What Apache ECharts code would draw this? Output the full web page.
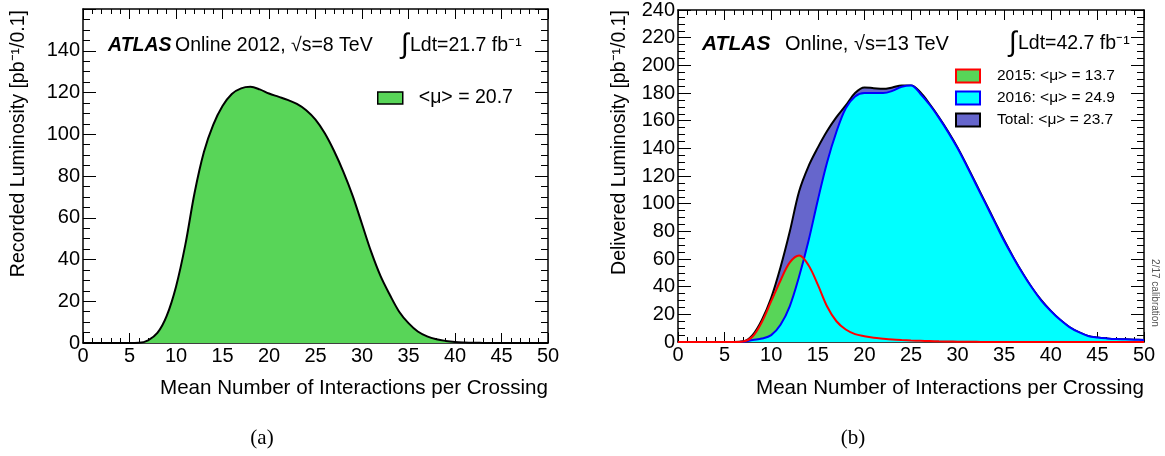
<!DOCTYPE html>
<html lang="en">
  <head>
    <meta charset="UTF-8" />
    <title>ATLAS pile-up</title>
    <style>
      html, body { margin: 0; padding: 0; background: #fff; }
      #main { width: 1165px; height: 456px; }
    </style>
  </head>
  <body>
    <script src="https://cdn.jsdelivr.net/npm/echarts@6/dist/echarts.min.js"></script>
    <div id="main"></div>
    <script>
      // mean number of interactions per crossing (x grid)
      const mu = [0, 1, 2, 3, 4, 5, 6, 7, 8, 9, 10, 11, 12, 13, 14, 15, 16, 17, 18, 19, 20,
        21, 22, 23, 24, 25, 26, 27, 28, 29, 30, 31, 32, 33, 34, 35, 36, 37, 38, 39, 40,
        41, 42, 43, 44, 45, 46, 47, 48, 49, 50]

      // (a) recorded luminosity 2012 [pb-1/0.1]
      const lumi2012 = [0, 0, 0, 0, 0, 0, 0.1, 1.3, 4.8, 13, 27, 47, 72, 91.5, 104.5, 113.5, 119.3,
        122, 122.7, 121.5, 119.5, 118, 116.5, 114.5, 111.5, 107, 100.5, 92, 82, 70.5, 57, 43.5,
        32, 23, 15, 9.5, 5.5, 3.2, 1.8, 1, 0.5, 0.25, 0.1, 0.05, 0, 0, 0, 0, 0, 0, 0]

      // (b) delivered luminosity [pb-1/0.1]
      const lumiTotal = [0, 0, 0, 0, 0, 0, 0, 0.5, 5, 16, 32, 54, 80, 109, 127, 140.5, 152.5,
        162.5, 171, 180, 184, 183.5, 183, 184, 185.5, 185.5, 180.5, 172, 162.5, 152, 140.5,
        127.5, 114, 100.5, 87, 73.5, 61, 49.5, 39, 30, 22.5, 16, 10.8, 7.1, 4.4, 3.3, 2.6, 2.1,
        1.9, 1.7, 1.5]
      const lumi2016 = [0, 0, 0, 0, 0, 0, 0, 0.2, 1.5, 2.5, 5, 12.5, 26, 47.5, 73, 102.5, 130,
        152, 169, 177.5, 180, 180, 180, 181.5, 184.5, 185.5, 179.5, 171.5, 162, 151.5, 140, 127,
        113.5, 100, 86.5, 73, 60.8, 49.4, 39, 29.8, 22.4, 16, 10.8, 7.1, 4.4, 3.3, 2.6, 2.1, 1.9,
        1.7, 1.5]
      const lumi2015 = [0, 0, 0, 0, 0, 0, 0, 0.4, 4, 14.5, 29.5, 44.5, 57.5, 62.5, 55.5, 41.5,
        25.7, 15, 9, 5.7, 4.2, 3.1, 2.4, 1.8, 1.4, 1.1, 0.9, 0.7, 0.5, 0.35, 0.25, 0.15, 0.1,
        0.05, 0, 0, 0, 0, 0, 0, 0, 0, 0, 0, 0, 0, 0, 0, 0, 0, 0]

      const names = {
        a: '<μ> = 20.7',
        y2015: '2015: <μ> = 13.7',
        y2016: '2016: <μ> = 24.9',
        total: 'Total: <μ> = 23.7'
      }
      const yMaxA = 160
      const yMaxB = 240

      const FONT = 'Liberation Sans'
      const green = '#58d558'
      const pts = arr => mu.map((x, i) => [x, arr[i]])

      function xAxes(grid) {
        const base = {
          gridIndex: grid, type: 'value', min: 0, max: 50, interval: 5,
          axisLine: { onZero: false, lineStyle: { color: '#000', width: 1.5 } },
          axisTick: { inside: true, length: 10, lineStyle: { color: '#000', width: 1 } },
          minorTick: { show: true, splitNumber: 5, length: 5, lineStyle: { color: '#000', width: 1 } },
          splitLine: { show: false }
        }
        return [
          { ...base, position: 'bottom',
            axisLabel: { fontSize: 20, fontFamily: FONT, color: '#000', margin: 3 } },
          { ...base, position: 'top', axisLabel: { show: false } }
        ]
      }
      function yAxes(grid, max) {
        const base = {
          gridIndex: grid, type: 'value', min: 0, max: max, interval: 20,
          axisLine: { show: true, onZero: false, lineStyle: { color: '#000', width: 1.5 } },
          axisTick: { show: true, inside: true, length: 13, lineStyle: { color: '#000', width: 1 } },
          minorTick: { show: true, splitNumber: 4, length: 7, lineStyle: { color: '#000', width: 1 } },
          splitLine: { show: false }
        }
        return [
          { ...base, position: 'left',
            axisLabel: { fontSize: 20, fontFamily: FONT, color: '#000', margin: 3,
              formatter: v => (max === 160 && v === 160 ? '' : v) } },
          { ...base, position: 'right', axisLabel: { show: false } }
        ]
      }

      const line = (name, x, y, data, lineColor, fill, z) => ({
        name, type: 'line', xAxisIndex: x, yAxisIndex: y, data,
        smooth: 0.35, symbol: 'none', z,
        itemStyle: { color: fill || lineColor },
        lineStyle: lineColor ? { color: lineColor, width: 2 } : { width: 0, opacity: 0 },
        areaStyle: fill ? { color: fill, opacity: 1 } : undefined
      })

      function txt(x, y, text, size, extra) {
        return {
          type: 'text', x, y, silent: true,
          style: Object.assign({
            text, fontSize: size, fontFamily: FONT, fill: '#000',
            align: 'left', verticalAlign: 'middle', textAlign: 'left', textVerticalAlign: 'middle'
          }, extra || {})
        }
      }
      const bold = { fontWeight: 'bold', fontStyle: 'italic' }

      const chart = echarts.init(document.getElementById('main'))
      chart.setOption({
        animation: false,
        backgroundColor: '#fff',
        grid: [
          { left: 83, top: 9, width: 465, height: 334 },
          { left: 678, top: 9, width: 466, height: 333 }
        ],
        xAxis: [...xAxes(0), ...xAxes(1)],
        yAxis: [...yAxes(0, yMaxA), ...yAxes(1, yMaxB)],
        legend: [
          {
            left: 377, top: 88, orient: 'vertical', padding: 0, selectedMode: false,
            icon: 'rect', itemWidth: 25, itemHeight: 12, itemGap: 8,
            textStyle: { fontSize: 19.5, fontFamily: FONT, color: '#000', padding: [0, 0, 0, 11] },
            data: [{ name: names.a, itemStyle: { color: green, borderColor: '#000', borderWidth: 1.5 } }]
          },
          {
            left: 955, top: 68, orient: 'vertical', padding: 0, selectedMode: false,
            icon: 'rect', itemWidth: 24, itemHeight: 13, itemGap: 6,
            textStyle: { fontSize: 15.5, fontFamily: FONT, color: '#000', padding: [0, 0, 0, 12] },
            data: [
              { name: names.y2015, itemStyle: { color: green, borderColor: '#ff0000', borderWidth: 2 } },
              { name: names.y2016, itemStyle: { color: '#00ffff', borderColor: '#0000ff', borderWidth: 2 } },
              { name: names.total, itemStyle: { color: '#6666cc', borderColor: '#000', borderWidth: 2 } }
            ]
          }
        ],
        series: [
          line(names.a, 0, 0, pts(lumi2012), '#000', green, 2),
          line(names.total, 2, 2, pts(lumiTotal), '#000', '#6666cc', 2),
          line(names.y2015, 2, 2, pts(lumi2015), null, green, 3),
          line(names.y2016, 2, 2, pts(lumi2016), '#0000ff', '#00ffff', 4),
          line('2015 outline', 2, 2, pts(lumi2015), '#ff0000', null, 5)
        ],
        graphic: [
          // panel (a)
          txt(108, 46, 'ATLAS', 19.5, bold),
          txt(175, 46, 'Online 2012, √s=8 TeV', 19.5),
          txt(401, 45, '∫', 28),
          txt(410, 46, 'Ldt=21.7 fb⁻¹', 19.5),
          txt(19, 10, 'Recorded Luminosity [pb⁻¹/0.1]', 19.5,
            { align: 'right', textAlign: 'right' }),
          txt(548, 388, 'Mean Number of Interactions per Crossing', 20.6,
            { align: 'right', textAlign: 'right' }),
          txt(262, 438, '(a)', 21, { fontFamily: 'Liberation Serif', align: 'center', textAlign: 'center' }),
          // panel (b)
          txt(702, 44, 'ATLAS', 21, bold),
          txt(785, 44, 'Online, √s=13 TeV', 20),
          txt(1009, 43, '∫', 28),
          txt(1018, 44, 'Ldt=42.7 fb⁻¹', 19.5),
          txt(620, 10, 'Delivered Luminosity [pb⁻¹/0.1]', 19.5,
            { align: 'right', textAlign: 'right' }),
          txt(1144, 388, 'Mean Number of Interactions per Crossing', 20.6,
            { align: 'right', textAlign: 'right' }),
          txt(853, 438, '(b)', 21, { fontFamily: 'Liberation Serif', align: 'center', textAlign: 'center' }),
          txt(1155, 293, '2/17 calibration', 10,
            { fill: '#555', align: 'center', textAlign: 'center' })
        ]
      })
      // rotate the vertical texts
      chart.setOption({
        graphic: [
          {}, {}, {}, {}, { rotation: Math.PI / 2 }, {}, {},
          {}, {}, {}, {}, { rotation: Math.PI / 2 }, {}, {}, { rotation: -Math.PI / 2 }
        ]
      })
    </script>
  </body>
</html>
